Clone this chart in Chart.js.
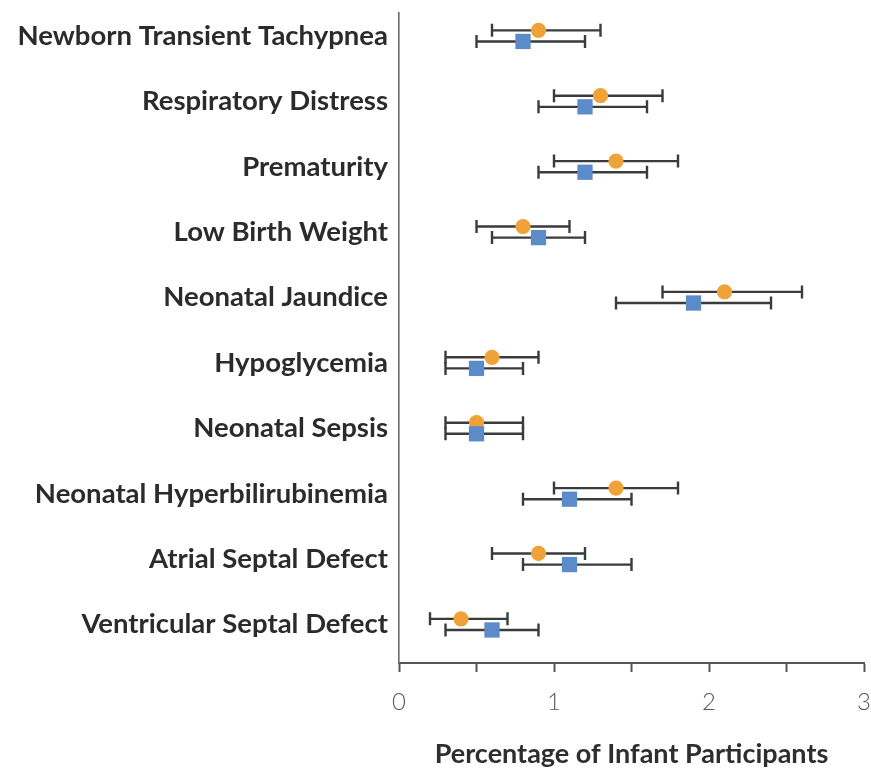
<!DOCTYPE html>
<html>
<head>
<meta charset="utf-8">
<script src="https://cdn.jsdelivr.net/npm/chart.js@4"></script>
<style>
  html, body { margin: 0; padding: 0; background: #ffffff; }
  #wrap { width: 871px; height: 772px; }
</style>
</head>
<body>
<div id="wrap"><canvas id="chart" width="871" height="772"></canvas></div>
<script>
// Neonatal outcomes: point estimate with lower/upper interval per outcome
const categories = [
  'Newborn Transient Tachypnea',
  'Respiratory Distress',
  'Prematurity',
  'Low Birth Weight',
  'Neonatal Jaundice',
  'Hypoglycemia',
  'Neonatal Sepsis',
  'Neonatal Hyperbilirubinemia',
  'Atrial Septal Defect',
  'Ventricular Septal Defect'
];

const groupARate = [0.9, 1.3, 1.4, 0.8, 2.1, 0.6, 0.5, 1.4, 0.9, 0.4];
const groupALow  = [0.6, 1.0, 1.0, 0.5, 1.7, 0.3, 0.3, 1.0, 0.6, 0.2];
const groupAHigh = [1.3, 1.7, 1.8, 1.1, 2.6, 0.9, 0.8, 1.8, 1.2, 0.7];

const groupBRate = [0.8, 1.2, 1.2, 0.9, 1.9, 0.5, 0.5, 1.1, 1.1, 0.6];
const groupBLow  = [0.5, 0.9, 0.9, 0.6, 1.4, 0.3, 0.3, 0.8, 0.8, 0.3];
const groupBHigh = [1.2, 1.6, 1.6, 1.2, 2.4, 0.8, 0.8, 1.5, 1.5, 0.9];

const xTickValues = [0, 0.5, 1, 1.5, 2, 2.5, 3];
const xTickLabels = ['0', '', '1', '', '2', '', '3'];

// vertical nudge (in category units) so the two rows in each outcome don't overlap
const ROW_SHIFT = 0.085;

function toPoints(rate, low, high, shift) {
  return rate.map((v, i) => ({ x: v, y: i + shift, lo: low[i], hi: high[i] }));
}

// draws the interval whiskers underneath the markers
const errorBars = {
  id: 'errorBars',
  beforeDatasetsDraw(chart) {
    const ctx = chart.ctx;
    const xs = chart.scales.x, ys = chart.scales.y;
    ctx.save();
    ctx.strokeStyle = '#3b3b3b';
    ctx.lineWidth = 2.4;
    ctx.lineCap = 'butt';
    chart.data.datasets.forEach(ds => {
      ds.data.forEach(p => {
        const y = ys.getPixelForValue(p.y);
        const x1 = xs.getPixelForValue(p.lo);
        const x2 = xs.getPixelForValue(p.hi);
        ctx.beginPath();
        ctx.moveTo(x1, y); ctx.lineTo(x2, y);
        ctx.moveTo(x1, y - 6.5); ctx.lineTo(x1, y + 6.5);
        ctx.moveTo(x2, y - 6.5); ctx.lineTo(x2, y + 6.5);
        ctx.stroke();
      });
    });
    ctx.restore();
  }
};

new Chart(document.getElementById('chart'), {
  type: 'scatter',
  data: {
    datasets: [
      {
        label: 'Group B',
        data: toPoints(groupBRate, groupBLow, groupBHigh, ROW_SHIFT),
        pointStyle: 'rect',
        pointRadius: 10.8,
        pointHoverRadius: 10.8,
        backgroundColor: '#5b8bc9',
        borderWidth: 0
      },
      {
        label: 'Group A',
        data: toPoints(groupARate, groupALow, groupAHigh, -ROW_SHIFT),
        pointStyle: 'circle',
        pointRadius: 7.6,
        pointHoverRadius: 7.6,
        backgroundColor: '#eea238',
        borderWidth: 0
      }
    ]
  },
  options: {
    responsive: false,
    animation: false,
    events: [],
    layout: { autoPadding: false, padding: { top: 13, right: 7, bottom: 0, left: 0 } },
    plugins: {
      legend: { display: false },
      tooltip: { enabled: false }
    },
    scales: {
      x: {
        type: 'linear',
        min: 0,
        max: 3,
        afterBuildTicks(scale) {
          scale.ticks = xTickValues.map(v => ({ value: v }));
        },
        afterFit(scale) {
          scale.height = 109;
          scale.paddingLeft = 0;
          scale.paddingRight = 0;
        },
        grid: {
          drawOnChartArea: false,
          drawTicks: true,
          tickLength: 9,
          tickWidth: 2,
          tickColor: '#555555'
        },
        border: { display: true, color: '#555555', width: 2 },
        ticks: {
          padding: 16,
          color: '#5a5a5a',
          font: { family: 'Lato', size: 24, weight: '300' },
          callback(value, index) { return xTickLabels[index]; }
        },
        title: {
          display: true,
          text: 'Percentage of Infant Participants',
          color: '#2e2e2e',
          font: { family: 'Lato', size: 27, weight: '700' },
          padding: { top: 0, bottom: 2 }
        }
      },
      y: {
        type: 'linear',
        reverse: true,
        min: -0.35,
        max: 9.59,
        afterBuildTicks(scale) {
          scale.ticks = categories.map((c, i) => ({ value: i }));
        },
        afterFit(scale) {
          scale.width = 399;
          scale.paddingTop = 0;
          scale.paddingBottom = 0;
        },
        grid: { display: false, drawTicks: false },
        border: { display: true, color: '#6a6a6a', width: 1.6 },
        ticks: {
          padding: 11,
          color: '#2b2b2b',
          font: { family: 'Lato', size: 27.5, weight: '700' },
          callback(value) { return categories[Math.round(value)]; }
        }
      }
    }
  },
  plugins: [errorBars]
});
</script>
</body>
</html>
